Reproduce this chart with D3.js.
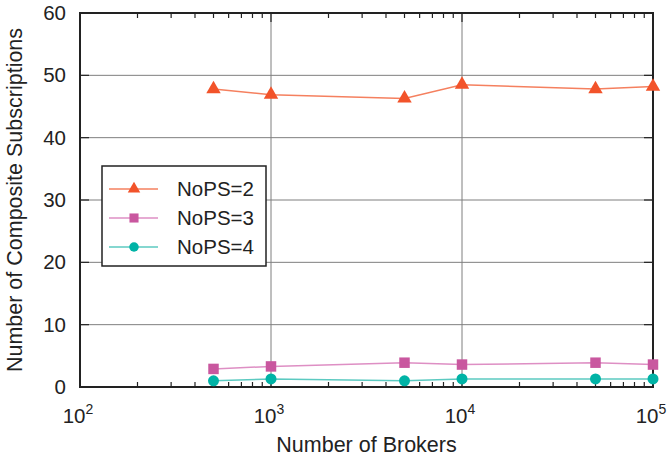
<!DOCTYPE html>
<html>
<head>
<meta charset="utf-8">
<script src="https://cdn.jsdelivr.net/npm/d3@7"></script>
<style>
  body { margin: 0; background: #fff; }
  svg text { font-family: "Liberation Sans", Arial, Helvetica, sans-serif; fill: #222; }
</style>
</head>
<body>
<div id="chart"></div>
<script>
// datos
const brokers = [500, 1000, 5000, 10000, 50000, 100000];
const nops2 = [47.8, 46.9, 46.3, 48.5, 47.8, 48.2];
const nops3 = [2.9, 3.3, 3.9, 3.6, 3.9, 3.6];
const nops4 = [1.0, 1.3, 1.0, 1.3, 1.3, 1.3];
const seriesNames = ["NoPS=2", "NoPS=3", "NoPS=4"];
const yTicks = [0, 10, 20, 30, 40, 50, 60];
const xMajor = [100, 1000, 10000, 100000];

const width = 667, height = 458;
const pLeft = 80, pRight = 653, pTop = 13, pBottom = 387;

const svg = d3.select("#chart").append("svg")
  .attr("width", width)
  .attr("height", height);

const x = d3.scaleLog().domain([100, 100000]).range([pLeft, pRight]);
const y = d3.scaleLinear().domain([0, 60]).range([pBottom, pTop]);

// rejilla
svg.append("g").selectAll("line")
  .data(yTicks.filter(d => d > 0 && d < 60))
  .join("line")
  .attr("x1", pLeft).attr("x2", pRight)
  .attr("y1", d => y(d)).attr("y2", d => y(d))
  .attr("stroke", "#7f7f7f").attr("stroke-width", 1);

svg.append("g").selectAll("line")
  .data(xMajor.filter(d => d > 100 && d < 100000))
  .join("line")
  .attr("x1", d => x(d)).attr("x2", d => x(d))
  .attr("y1", pTop).attr("y2", pBottom)
  .attr("stroke", "#7f7f7f").attr("stroke-width", 1);

// ticks menores
const minor = [];
for (let e = 100; e < 100000; e *= 10) {
  for (let k = 2; k <= 9; k++) minor.push(e * k);
}
const tickG = svg.append("g").attr("stroke", "#222").attr("stroke-width", 1.2);
minor.forEach(v => {
  tickG.append("line").attr("x1", x(v)).attr("x2", x(v)).attr("y1", pBottom).attr("y2", pBottom - 5);
  tickG.append("line").attr("x1", x(v)).attr("x2", x(v)).attr("y1", pTop).attr("y2", pTop + 5);
});
xMajor.forEach(v => {
  tickG.append("line").attr("x1", x(v)).attr("x2", x(v)).attr("y1", pBottom).attr("y2", pBottom - 9);
  tickG.append("line").attr("x1", x(v)).attr("x2", x(v)).attr("y1", pTop).attr("y2", pTop + 9);
});
yTicks.forEach(v => {
  tickG.append("line").attr("x1", pLeft).attr("x2", pLeft + 9).attr("y1", y(v)).attr("y2", y(v));
  tickG.append("line").attr("x1", pRight).attr("x2", pRight - 9).attr("y1", y(v)).attr("y2", y(v));
});

// marco
svg.append("rect")
  .attr("x", pLeft).attr("y", pTop)
  .attr("width", pRight - pLeft).attr("height", pBottom - pTop)
  .attr("fill", "none").attr("stroke", "#222").attr("stroke-width", 2);

// etiquetas eje y
svg.append("g").selectAll("text")
  .data(yTicks)
  .join("text")
  .attr("x", pLeft - 14)
  .attr("y", d => y(d) + 7)
  .attr("text-anchor", "end")
  .attr("font-size", 20.5)
  .text(d => d);

// etiquetas eje x con superindice
const xl = svg.append("g").selectAll("text")
  .data(xMajor)
  .join("text")
  .attr("x", d => x(d) - 2)
  .attr("y", 423)
  .attr("text-anchor", "middle")
  .attr("font-size", 20.5);
xl.append("tspan").text("10");
xl.append("tspan").attr("dy", -9).attr("font-size", 14).text(d => Math.round(Math.log10(d)));

svg.append("text")
  .attr("x", (pLeft + pRight) / 2)
  .attr("y", 452)
  .attr("text-anchor", "middle")
  .attr("font-size", 21.5)
  .text("Number of Brokers");

svg.append("text")
  .attr("transform", `translate(22,${(pTop + pBottom) / 2}) rotate(-90)`)
  .attr("text-anchor", "middle")
  .attr("font-size", 21.5)
  .text("Number of Composite Subscriptions");

// series
const series = [
  { name: seriesNames[0], values: nops2, line: "#f5805f", mark: "#f2532a", shape: d3.symbolTriangle, size: 90 },
  { name: seriesNames[1], values: nops3, line: "#de8fc4", mark: "#c9579f", shape: d3.symbolSquare, size: 110 },
  { name: seriesNames[2], values: nops4, line: "#5ccac1", mark: "#00b3a6", shape: d3.symbolCircle, size: 95 }
];

const line = d3.line().x(d => x(d[0])).y(d => y(d[1]));

series.forEach(s => {
  const pts = brokers.map((b, i) => [b, s.values[i]]);
  svg.append("path")
    .datum(pts)
    .attr("d", line)
    .attr("fill", "none")
    .attr("stroke", s.line)
    .attr("stroke-width", 1.5);
  svg.append("g").selectAll("path")
    .data(pts)
    .join("path")
    .attr("transform", d => `translate(${x(d[0])},${y(d[1])})`)
    .attr("d", d3.symbol().type(s.shape).size(s.size))
    .attr("fill", s.mark);
});

// leyenda
const lg = svg.append("g").attr("transform", "translate(102,166)");
lg.append("rect")
  .attr("width", 164).attr("height", 100)
  .attr("fill", "#fff").attr("stroke", "#222").attr("stroke-width", 1.5);
series.forEach((s, i) => {
  const cy = 23 + i * 29;
  lg.append("line").attr("x1", 7).attr("x2", 56).attr("y1", cy).attr("y2", cy)
    .attr("stroke", s.line).attr("stroke-width", 1.5);
  lg.append("path").attr("transform", `translate(32,${cy})`)
    .attr("d", d3.symbol().type(s.shape).size(s.size * 0.75))
    .attr("fill", s.mark);
  lg.append("text").attr("x", 75).attr("y", cy + 7)
    .attr("font-size", 20.5).text(s.name);
});
</script>
</body>
</html>
